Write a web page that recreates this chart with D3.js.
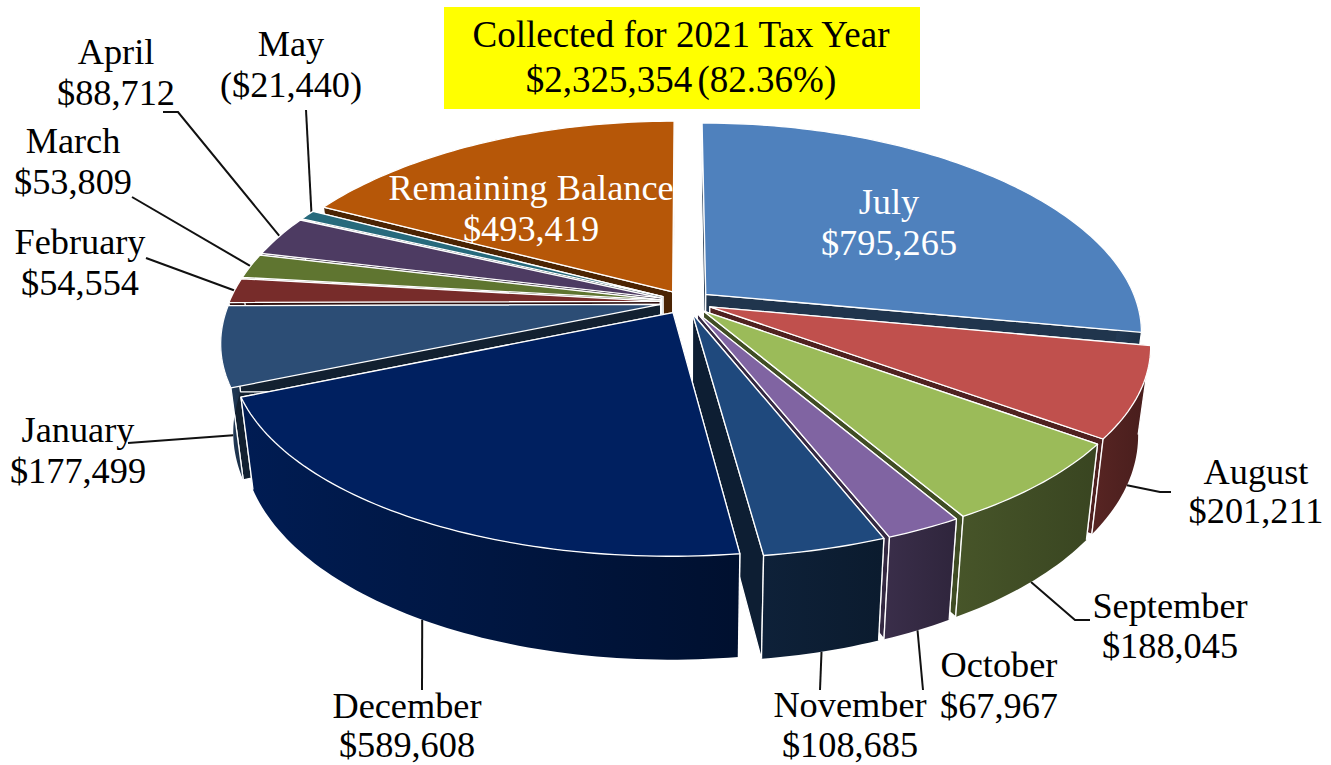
<!DOCTYPE html>
<html>
<head>
<meta charset="utf-8">
<script src="https://d3js.org/d3.v7.min.js"></script>
<style>
  html, body { margin: 0; padding: 0; background: #fff; }
  svg { display: block; }
  text { font-family: "Liberation Serif", serif; }
</style>
</head>
<body>
<div id="chart"></div>
<script>
// clockwise from 12 o'clock
const months = ["July", "August", "September", "October", "November", "December",
  "January", "February", "March", "April", "May", "Remaining Balance"];
const amounts = [795265, 201211, 188045, 67967, 108685, 589608,
  177499, 54554, 53809, 88712, -21440, 493419];
const titleLines = ["Collected for 2021 Tax Year", "$2,325,354 (82.36%)"];

const topColors = ["#4f81bd", "#c0504d", "#9bbb59", "#8064a2", "#1f497d", "#002060",
  "#2c4d75", "#772c2a", "#5f7530", "#4d3b62", "#276a7c", "#b65708"];

// label centre [x, first baseline], then the bend of the leader, then how far down the wall it lands
const labelSpots = {
  "July": { at: [889, 214] },
  "August": { at: [1256, 484], dy: 39, knots: [[1171, 492], [1160, 492]], drop: 1 },
  "September": { at: [1170, 618], dy: 40, knots: [[1090, 620], [1075, 620]], drop: 1 },
  "October": { at: [999, 677], knots: [[923, 690]], drop: 1 },
  "November": { at: [850, 717], dy: 40, knots: [[820, 690]], drop: 1 },
  "December": { at: [407, 718], dy: 39, knots: [[422, 690]], drop: 1 },
  "January": { at: [78, 442], knots: [[128, 443]], drop: 1 },
  "February": { at: [80, 254], knots: [[146, 258]], drop: 0 },
  "March": { at: [73, 153], knots: [[132, 197]], drop: 0 },
  "April": { at: [116, 64], knots: [[163, 112], [178, 112]], drop: 0 },
  "May": { at: [291, 56], knots: [[306, 110]], drop: 0, turn: 1 },
  "Remaining Balance": { at: [531, 200] }
};

// wall shading left to right, as d3 darker() steps
const wallShade = {
  "December": [0.4, 2.0],
  "January": [0.2, 1.6]
};

const width = 1331, height = 765,
  cx = 686, cy = 302,
  radiusX = 431, radiusY = 201,
  tilt = 0.16,          // perspective strength
  widen = 0.02,         // extra widening toward the viewer
  thickness = 86,
  squeeze = 0.027,      // how much the bottom of the wall pulls in
  explode = 0.06,
  firstAngle = -0.1 * Math.PI / 180,
  fontSize = 36.3,
  lineGap = 41;

const svg = d3.select("#chart").append("svg")
  .attr("width", width)
  .attr("height", height);
const defs = svg.append("defs");

function project(u, v, drop) {
  const f = 1 / (1 - tilt * v);
  const x = u * radiusX * f * (1 + widen * v) * (1 - squeeze * drop);
  const y = v * radiusY * f + drop * thickness * f;
  return [cx + x, cy + y];
}

const pieLayout = d3.pie().sort(null)
  .startAngle(firstAngle)
  .endAngle(firstAngle + 2 * Math.PI)
  .value(d => Math.abs(d));

const slices = pieLayout(amounts).map((d, i) => {
  const mid = (d.startAngle + d.endAngle) / 2;
  return {
    name: months[i],
    amount: amounts[i],
    color: topColors[i],
    start: d.startAngle,
    end: d.endAngle,
    mid: mid,
    ou: explode * Math.sin(mid),
    ov: -explode * Math.cos(mid)
  };
});

const rim = (s, a, drop) => project(s.ou + Math.sin(a), s.ov - Math.cos(a), drop);
const hub = (s, drop) => project(s.ou, s.ov, drop);

function arcAngles(s) {
  const n = Math.max(4, Math.ceil((s.end - s.start) / 0.02));
  return d3.range(n + 1).map(i => s.start + (s.end - s.start) * i / n);
}

const closed = d3.line().curve(d3.curveLinearClosed);
const openLine = d3.line();
const money = v => v < 0 ? "(" + d3.format("$,")(-v) + ")" : d3.format("$,")(v);

// leaders go first so they tuck under the pie
slices.forEach(s => {
  const spot = labelSpots[s.name];
  if (!spot.knots) return;
  const landing = s.mid + (spot.turn || 0) * Math.PI / 180;
  svg.append("path")
    .attr("d", openLine(spot.knots.concat([rim(s, landing, spot.drop)])))
    .attr("fill", "none")
    .attr("stroke", "#111")
    .attr("stroke-width", 2);
});

// painter order: furthest from the December/November seam first
const seam = 205 * Math.PI / 180;
const order = slices.slice().sort((a, b) => d3.descending(Math.abs(a.mid - seam), Math.abs(b.mid - seam)));

const pie = svg.append("g");
order.forEach((s, i) => {
  const g = pie.append("g").attr("class", "slice");
  const angles = arcAngles(s);
  const side = d3.color(s.color).darker(2.5);
  const shade = wallShade[s.name] || [2.2, 2.8];

  const top = angles.map(a => rim(s, a, 0));

  [s.start, s.end].forEach(a => {
    g.append("path")
      .attr("d", closed([hub(s, 0), rim(s, a, 0), rim(s, a, 1), hub(s, 1)]))
      .attr("fill", side)
      .attr("stroke", "#fff")
      .attr("stroke-width", 1.3)
      .attr("stroke-linejoin", "round");
  });

  // only the part of the rim that faces the viewer gets a wall
  const wallAngles = angles.filter(a => Math.cos(a) < 0.1);
  if (wallAngles.length > 1) {
    const wallTop = wallAngles.map(a => rim(s, a, 0));
    const wallBottom = wallAngles.map(a => rim(s, a, 1));
    const xs = wallTop.concat(wallBottom).map(p => p[0]);
    const grad = defs.append("linearGradient")
      .attr("id", "wall" + i)
      .attr("gradientUnits", "userSpaceOnUse")
      .attr("x1", d3.min(xs)).attr("x2", d3.max(xs))
      .attr("y1", 0).attr("y2", 0);
    grad.append("stop").attr("offset", 0).attr("stop-color", d3.color(s.color).darker(shade[0]));
    grad.append("stop").attr("offset", 1).attr("stop-color", d3.color(s.color).darker(shade[1]));

    g.append("path")
      .attr("d", closed(wallTop.concat(wallBottom.reverse())))
      .attr("fill", "url(#wall" + i + ")");

    // white corner edges on top of the wall
    [s.start, s.end].filter(a => Math.cos(a) < 0.1).forEach(a => {
      g.append("path")
        .attr("d", openLine([rim(s, a, 0), rim(s, a, 1)]))
        .attr("stroke", "#fff")
        .attr("stroke-width", 1.3);
    });
  }

  g.append("path")
    .attr("d", closed([hub(s, 0)].concat(top)))
    .attr("fill", s.color)
    .attr("stroke", "#fff")
    .attr("stroke-width", 1.3)
    .attr("stroke-linejoin", "round");
});

// title box
svg.append("rect")
  .attr("x", 444).attr("y", 7)
  .attr("width", 476).attr("height", 102)
  .attr("fill", "#ffff00");
svg.selectAll(".title")
  .data(titleLines)
  .enter()
  .append("text")
  .attr("class", "title")
  .attr("x", 681)
  .attr("y", (d, i) => 47 + i * 45)
  .attr("text-anchor", "middle")
  .attr("font-size", 37)
  .attr("word-spacing", (d, i) => i ? -4 : 0)
  .attr("fill", "#000")
  .text(d => d);

// slice labels
slices.forEach(s => {
  const spot = labelSpots[s.name];
  const inside = !spot.knots;
  [s.name, money(s.amount)].forEach((line, i) => {
    svg.append("text")
      .attr("x", spot.at[0])
      .attr("y", spot.at[1] + i * (spot.dy || lineGap))
      .attr("text-anchor", "middle")
      .attr("font-size", fontSize)
      .attr("fill", inside ? "#fff" : "#000")
      .text(line);
  });
});
</script>
</body>
</html>
